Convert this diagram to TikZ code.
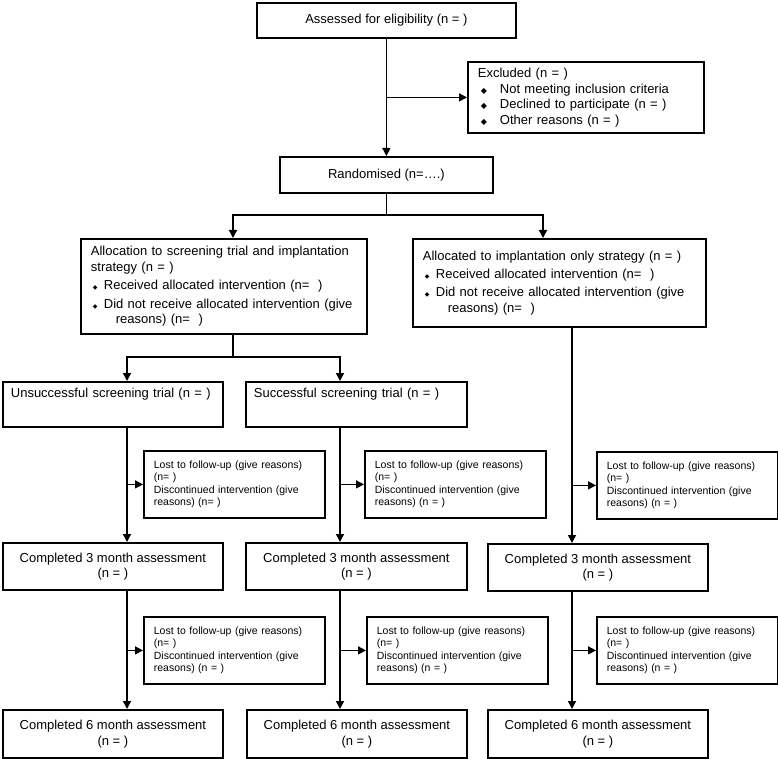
\documentclass[tikz,border=0pt]{standalone}
\usepackage{fontspec}
\setmainfont{Liberation Sans}
\newfontfamily\symfont{DejaVu Sans}
\usepackage{tikz}
\usetikzlibrary{arrows.meta, positioning}
\newcommand{\dia}{{\symfont\fontsize{6}{6}\selectfont ◆}}
\newcommand{\bigdia}{{\symfont\fontsize{8}{8}\selectfont ◆}}
\tikzset{
  box/.style={draw, line width=1.8pt, anchor=north west, inner xsep=10pt, inner ysep=0pt,
    font=\fontsize{13}{15.5}\selectfont},
  centerbox/.style={box, align=center},
  leftbox/.style={box, align=left},
  trialbox/.style={leftbox, inner xsep=8pt, inner ysep=6pt, text width=204pt, text height=10pt, text depth=23pt},
  lostbox/.style={box, align=left, font=\fontsize{10.5}{12.3}\selectfont, text width=161pt, minimum height=67pt},
  link/.style={line width=1.4pt},
}

\begin{document}
\begin{tikzpicture}[x=1pt, y=-1pt, >={Triangle[length=8pt,width=8pt]}]
\useasboundingbox (0,0) rectangle (778,759);
% enrolment
\node[centerbox, minimum width=259pt, minimum height=35pt] (assess) at (256,2) {Assessed for eligibility (n = )};
\node[leftbox, text width=216pt, minimum height=71pt] (excl) at (467,61) {Excluded (n = )\\
  \makebox[22pt][l]{\hspace{3pt}\bigdia}Not meeting inclusion criteria\\
  \makebox[22pt][l]{\hspace{3pt}\bigdia}Declined to participate (n = )\\
  \makebox[22pt][l]{\hspace{3pt}\bigdia}Other reasons (n = )};
\node[centerbox, minimum width=213pt, minimum height=36pt] (rand) at (279,156) {Randomised (n=….)};
% allocation
\node[leftbox, text width=266pt, minimum height=95pt] (allocA) at (80,238) {Allocation to screening trial and implantation\\
  strategy (n = )\\[3pt]
  \makebox[13pt][l]{\hspace{2pt}\dia}Received allocated intervention (n=~~)\\[3pt]
  \makebox[13pt][l]{\hspace{2pt}\dia}Did not receive allocated intervention (give\\
  \hspace*{25pt}reasons) (n=~~)};
\node[leftbox, text width=273pt, minimum height=88pt] (allocB) at (412,238) {Allocated to implantation only strategy (n = )\\[2pt]
  \makebox[13pt][l]{\hspace{2pt}\dia}Received allocated intervention (n=~~)\\[3pt]
  \makebox[13pt][l]{\hspace{2pt}\dia}Did not receive allocated intervention (give\\
  \hspace*{25pt}reasons) (n=~~)};
\node[trialbox] (unsucc) at (2,381) {Unsuccessful screening trial (n = )};
\node[trialbox, text width=205pt] (succ) at (245,381) {Successful screening trial (n = )};
% 3 month follow-up
\node[lostbox] (lostA1) at (143,450) {Lost to follow-up (give reasons)\\(n= )\\Discontinued intervention (give\\reasons) (n= )};
\node[lostbox] (lostB1) at (364,450) {Lost to follow-up (give reasons)\\(n= )\\Discontinued intervention (give\\reasons) (n = )};
\node[lostbox] (lostC1) at (596,451) {Lost to follow-up (give reasons)\\(n= )\\Discontinued intervention (give\\reasons) (n = )};
\node[centerbox, minimum width=220pt, minimum height=47pt] (threeA) at (2,542) {Completed 3 month assessment\\(n = )};
\node[centerbox, minimum width=221pt, minimum height=47pt] (threeB) at (245,542) {Completed 3 month assessment\\(n = )};
\node[centerbox, minimum width=220pt, minimum height=47pt] (threeC) at (487,543) {Completed 3 month assessment\\(n = )};
% 6 month follow-up
\node[lostbox] (lostA2) at (143,616) {Lost to follow-up (give reasons)\\(n= )\\Discontinued intervention (give\\reasons) (n = )};
\node[lostbox] (lostB2) at (366,616) {Lost to follow-up (give reasons)\\(n= )\\Discontinued intervention (give\\reasons) (n = )};
\node[lostbox] (lostC2) at (596,616) {Lost to follow-up (give reasons)\\(n= )\\Discontinued intervention (give\\reasons) (n = )};
\node[centerbox, minimum width=220pt, minimum height=48pt] (sixA) at (2,709) {Completed 6 month assessment\\(n = )};
\node[centerbox, minimum width=220pt, minimum height=48pt] (sixB) at (246,709) {Completed 6 month assessment\\(n = )};
\node[centerbox, minimum width=220pt, minimum height=48pt] (sixC) at (487,709) {Completed 6 month assessment\\(n = )};

% branch points
\coordinate (toA) at (233,215);
\coordinate (toB) at (543,215);
\coordinate (toU) at (127,357);
\coordinate (toS) at (340,357);
\coordinate (colC) at (572,0);

\draw[link, ->] (assess.south) -- (rand.north);
\draw[link, ->] (assess.south |- excl.west) -- (excl.west);
\draw[link] (rand.south) -- (rand.south |- toA);
\draw[link, <->] (toA |- allocA.north) -- (toA) -- (toB) -- (toB |- allocB.north);
\draw[link] (toA |- allocA.south) -- (toA |- toU);
\draw[link, <->] (toU |- unsucc.north) -- (toU) -- (toS) -- (toS |- succ.north);

\draw[link, ->] (toU |- unsucc.south) -- (toU |- threeA.north);
\draw[link, ->] (toS |- succ.south) -- (toS |- threeB.north);
\draw[link, ->] (colC |- allocB.south) -- (colC |- threeC.north);
\draw[link, ->] (toU |- lostA1.west) -- (lostA1.west);
\draw[link, ->] (toS |- lostB1.west) -- (lostB1.west);
\draw[link, ->] (colC |- lostC1.west) -- (lostC1.west);

\draw[link, ->] (toU |- threeA.south) -- (toU |- sixA.north);
\draw[link, ->] (toS |- threeB.south) -- (toS |- sixB.north);
\draw[link, ->] (colC |- threeC.south) -- (colC |- sixC.north);
\draw[link, ->] (toU |- lostA2.west) -- (lostA2.west);
\draw[link, ->] (toS |- lostB2.west) -- (lostB2.west);
\draw[link, ->] (colC |- lostC2.west) -- (lostC2.west);
\end{tikzpicture}
\end{document}
